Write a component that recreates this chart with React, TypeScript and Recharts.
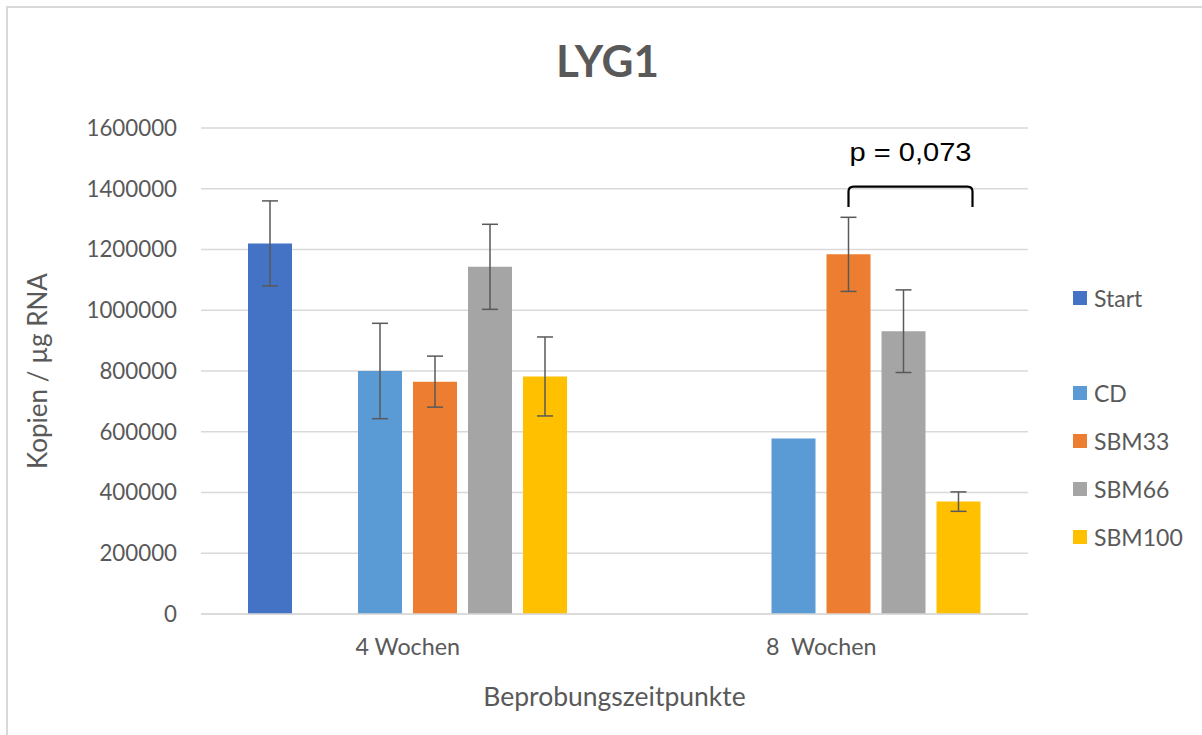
import React from 'react';
import { BarChart, Bar, XAxis, YAxis, CartesianGrid, ErrorBar, LabelList, Legend } from 'recharts';

// ---- data ----
const categories = ['4 Wochen', '8\u00A0 Wochen'];
const seriesNames = ['Start', '', 'CD', 'SBM33', 'SBM66', 'SBM100'];
const seriesKeys = ['Start', 'blank', 'CD', 'SBM33', 'SBM66', 'SBM100'];
const seriesColors = ['#4472C4', 'transparent', '#5B9BD5', '#ED7D31', '#A5A5A5', '#FFC000'];

const startValues = [1220000, null];
const blankValues = [null, null];
const cdValues = [800000, 578000];
const sbm33Values = [765000, 1184000];
const sbm66Values = [1143000, 931000];
const sbm100Values = [782000, 370000];

const startErrors = [140000, null];
const blankErrors = [null, null];
const cdErrors = [157000, null];
const sbm33Errors = [84000, 122000];
const sbm66Errors = [140000, 136000];
const sbm100Errors = [130000, 32000];

const yTicks = [0, 200000, 400000, 600000, 800000, 1000000, 1200000, 1400000, 1600000];

const titleText = 'LYG1';
const xTitle = 'Beprobungszeitpunkte';
const yTitle = 'Kopien / µg RNA';
const pValueText = 'p = 0,073';
const bracketTopValue = 1407000;
const bracketEndValue = 1340000;
const pTextValue = 1492000;

const valueLists = [startValues, blankValues, cdValues, sbm33Values, sbm66Values, sbm100Values];
const errorLists = [startErrors, blankErrors, cdErrors, sbm33Errors, sbm66Errors, sbm100Errors];

const data = categories.map((category, i) => {
  const row: any = { category };
  seriesKeys.forEach((k, s) => {
    row[k] = valueLists[s][i];
    row[k + 'Err'] = errorLists[s][i];
  });
  return row;
});

const TEXT = '#595959';
const FONT = 'Lato, "Open Sans", sans-serif';
const BAR_GAP = 11;

const Bracket = (props: any) => {
  const { index, value } = props;
  if (index !== 1) return null;
  const vb = props.viewBox || props;
  const x = Number(vb.x ?? props.x);
  const y = Number(vb.y ?? props.y);
  const w = Number(vb.width ?? props.width);
  const h = Number(vb.height ?? props.height);
  const base = y + h;
  const k = h / Number(value);
  const left = x + w / 2;
  const right = x + w / 2 + 2 * (w + BAR_GAP) + 14;
  const top = base - bracketTopValue * k;
  const end = base - bracketEndValue * k;
  const r = 5;
  const d = `M${left},${end} L${left},${top + r} Q${left},${top} ${left + r},${top} L${right - r},${top} Q${right},${top} ${right},${top + r} L${right},${end}`;
  return (
    <g>
      <path d={d} fill="none" stroke="#000" strokeWidth={2.2} />
      <text
        x={(left + right) / 2}
        y={base - pTextValue * k}
        textAnchor="middle"
        fontFamily='"Liberation Sans", Arial, sans-serif'
        fontSize={25}
        fill="#000"
        textLength={122}
        lengthAdjust="spacingAndGlyphs"
      >
        {pValueText}
      </text>
    </g>
  );
};

const LegendContent = () => (
  <div style={{ fontFamily: FONT, fontSize: 23, color: TEXT }}>
    {seriesNames.map((name, i) => (
      <div key={i} style={{ height: 47.8, display: 'flex', alignItems: 'center' }}>
        {name ? (
          <>
            <span style={{ display: 'inline-block', width: 14, height: 14, background: seriesColors[i], marginRight: 7 }} />
            <span>{name}</span>
          </>
        ) : null}
      </div>
    ))}
  </div>
);

export default function App() {
  return (
    <div style={{ position: 'absolute', left: 0, top: 0, width: 1202, height: 735, background: '#fff', overflow: 'hidden' }}>
      <div
        style={{
          position: 'absolute',
          left: 6,
          top: 6,
          right: -10,
          bottom: -10,
          borderTop: '2.5px solid #d9d9d9',
          borderLeft: '2.5px solid #d9d9d9',
        }}
      />
      <svg width={1202} height={110} style={{ position: 'absolute', left: 0, top: 0 }}>
        <text x={607.5} y={77} textAnchor="middle" fontFamily={FONT} fontWeight="bold" fontSize={44} fill={TEXT}>
          {titleText}
        </text>
      </svg>
      <div style={{ position: 'absolute', left: 0, top: 0 }}>
        <BarChart
          width={1202}
          height={735}
          data={data}
          margin={{ top: 128, right: 174, bottom: 0, left: 101 }}
          barSize={44}
          barGap={BAR_GAP}
        >
          <CartesianGrid vertical={false} stroke="#d9d9d9" strokeWidth={1.5} />
          <XAxis
            dataKey="category"
            height={121}
            tickLine={false}
            tickSize={0}
            tickMargin={24}
            axisLine={{ stroke: '#d9d9d9', strokeWidth: 1.5 }}
            tick={{ fill: TEXT, fontSize: 23.3, fontFamily: FONT }}
            label={{ value: xTitle, position: 'insideBottom', offset: 29, fill: TEXT, fontSize: 26.5, fontFamily: FONT }}
          />
          <YAxis
            width={100}
            domain={[0, 1600000]}
            ticks={yTicks}
            interval={0}
            axisLine={false}
            tickLine={false}
            tickSize={0}
            tickMargin={24}
            tickFormatter={(v: number) => String(v)}
            tick={{ fill: TEXT, fontSize: 22.3, fontFamily: FONT }}
            label={{
              value: yTitle,
              angle: -90,
              position: 'left',
              offset: 63,
              style: { textAnchor: 'middle', fill: TEXT, fontSize: 26, fontFamily: FONT },
            }}
          />
          <Legend
            layout="vertical"
            align="center"
            verticalAlign="middle"
            content={<LegendContent />}
            wrapperStyle={{ left: 1073, top: 274, width: 129 }}
          />
          {seriesKeys.map((k, s) => (
            <Bar key={k} dataKey={k} name={seriesNames[s] || ' '} fill={seriesColors[s]} isAnimationActive={false}>
              <ErrorBar dataKey={k + 'Err'} width={8} stroke="#595959" strokeWidth={1.5} direction="y" />
              {k === 'SBM33' ? <LabelList dataKey={k} content={<Bracket />} /> : null}
            </Bar>
          ))}
        </BarChart>
      </div>
    </div>
  );
}
